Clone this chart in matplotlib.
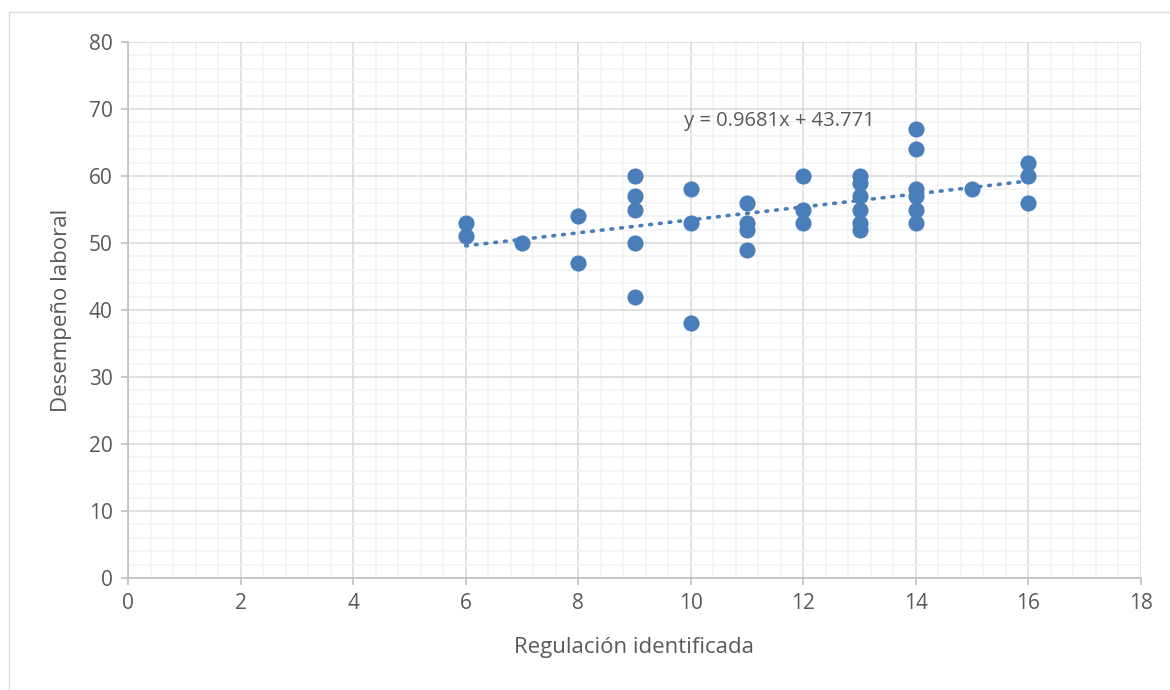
import numpy as np
import matplotlib.pyplot as plt
from matplotlib.lines import Line2D

# Datos
regulacion = [6, 6, 7, 8, 8, 9, 9, 9, 9, 9, 10, 10, 10, 11, 11, 11, 11,
              12, 12, 12, 13, 13, 13, 13, 13, 13, 14, 14, 14, 14, 14, 14,
              15, 16, 16, 16]
desempeno = [53, 51, 50, 54, 47, 60, 57, 55, 50, 42, 58, 53, 38, 56, 53, 52, 49,
             60, 55, 53, 60, 59, 57, 55, 53, 52, 67, 64, 58, 57, 55, 53,
             58, 62, 60, 56]

# Línea de tendencia (Excel)
pendiente = 0.9681
intercepto = 43.771

azul = '#4a7ebb'
gris_texto = '#595959'

plt.rcParams['font.family'] = ['Open Sans', 'DejaVu Sans']

fig = plt.figure(figsize=(11.7, 6.9), dpi=100)
ax = fig.add_axes([128 / 1170, 1 - 578 / 690, (1141 - 128) / 1170, (578 - 42) / 690])

# Marco exterior del gráfico (solo bordes visibles: izquierdo y superior)
x0, y0 = 9 / 1170, 1 - 12 / 690
fig.lines.append(Line2D([x0, x0], [0, y0], transform=fig.transFigure,
                        color='#d9d9d9', linewidth=1))
fig.lines.append(Line2D([x0, 1], [y0, y0], transform=fig.transFigure,
                        color='#d9d9d9', linewidth=1))

ax.set_xlim(0, 18)
ax.set_ylim(0, 80)
ax.set_xticks(np.arange(0, 19, 2))
ax.set_yticks(np.arange(0, 81, 10))
ax.set_xticks(np.arange(0, 18.01, 0.4), minor=True)
ax.set_yticks(np.arange(0, 81, 2), minor=True)
ax.grid(which='major', color='#d9d9d9', linewidth=1.1)
ax.grid(which='minor', color='#f2f2f2', linewidth=1.1)
ax.set_axisbelow(True)

for lado in ['top', 'right']:
    ax.spines[lado].set_visible(False)
for lado in ['left', 'bottom']:
    ax.spines[lado].set_color('#bfbfbf')
    ax.spines[lado].set_linewidth(1.2)
ax.tick_params(which='major', length=5, color='#bfbfbf', width=1.2,
               labelsize=15, labelcolor=gris_texto, pad=6)
ax.tick_params(which='minor', length=0)

ax.scatter(regulacion, desempeno, s=135, color=azul, zorder=3, linewidths=0)

xt = np.array([min(regulacion), max(regulacion)])
ax.plot(xt, pendiente * xt + intercepto, color=azul, linewidth=2.6,
        linestyle=(0, (0.5, 2.2)), dash_capstyle='round', zorder=2)

ax.text(9.88, 68.2, f'y = {pendiente}x + {intercepto}', fontsize=14.5,
        color=gris_texto, va='center', ha='left')

ax.set_xlabel('Regulación identificada', fontsize=16, color=gris_texto, labelpad=16)
ax.set_ylabel('Desempeño laboral', fontsize=16, color=gris_texto, labelpad=12)

fig.savefig('out.png', dpi=100)
